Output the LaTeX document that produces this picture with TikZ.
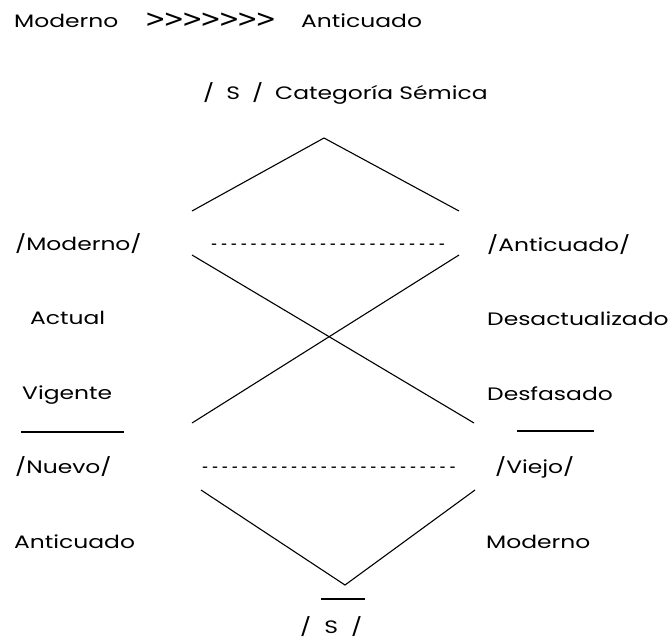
\documentclass[tikz,border=0pt]{standalone}
\usepackage{fontspec}
\setmainfont{Poppins}[FakeStretch=1.3]
\newfontfamily\dashfont{Liberation Sans}
\newfontfamily\gtfont{DejaVu Sans}
\begin{document}
\begin{tikzpicture}[x=1pt,y=-1pt,
  lbl/.style={anchor=base west,inner sep=0pt,font=\fontsize{18}{21}\selectfont},
  dashrow/.style={anchor=base west,inner sep=0pt,font=\fontsize{18}{21}\dashfont},
  ln/.style={line width=1.1pt,black}]
\useasboundingbox (0,0) rectangle (669,643);
\newcommand\hyb{\makebox[9.9pt]{-}}
\newcommand\gtb{\makebox[18.4pt]{\gtfont\fontsize{25}{28}\selectfont >}}
\newcommand\wsp{\hspace{12pt}}
% texts
\node[lbl] (t1) at (14,27) {Moderno};
\node[lbl] (t2) at (146,27) {\gtb\gtb\gtb\gtb\gtb\gtb\gtb};
\node[lbl] (t3) at (301,27) {Anticuado};
\node[lbl] (cat) at (203,99) {/\wsp S\wsp /\wsp Categoría Sémica};
\node[lbl] (mod) at (15,250) {/Moderno/};
\node[lbl] (act) at (30,324) {Actual};
\node[lbl] (vig) at (22,399) {Vigente};
\node[lbl] (nue) at (15,473) {/Nuevo/};
\node[lbl] (ant2) at (14,548) {Anticuado};
\node[lbl] (ant) at (487,251) {/Anticuado/};
\node[lbl] (des) at (487,325) {Desactualizado};
\node[lbl] (dsf) at (487,400) {Desfasado};
\node[lbl] (vie) at (495,473) {/Viejo/};
\node[lbl] (mod2) at (486,548) {Moderno};
\node[lbl] (s2) at (300,633) {/\hspace{13pt}S\hspace{13pt}/};
\node[dashrow] (d1) at (209,249) {\foreach \i in {1,...,24}{\hyb}};
\node[dashrow] (d2) at (200,472) {\foreach \i in {1,...,26}{\hyb}};
% coordinates
\coordinate (a1) at (192,211);
\coordinate (apex) at (324,138);
\coordinate (a2) at (459,211);
\coordinate (x1s) at (192,255);
\coordinate (x1e) at (474,423);
\coordinate (x2s) at (459,255);
\coordinate (x2e) at (192,423);
\coordinate (b1) at (201,490);
\coordinate (bapex) at (345,585);
\coordinate (b2) at (475,490);
\coordinate (u1) at (21,432);
\coordinate (u2) at (124,432);
\coordinate (u3) at (517,431);
\coordinate (u4) at (594,431);
\coordinate (o1) at (321,599);
\coordinate (o2) at (365,599);
% lines
\draw[ln] (a1) -- (apex) -- (a2);
\draw[ln] (x1s) -- (x1e);
\draw[ln] (x2s) -- (x2e);
\draw[ln] (b1) -- (bapex) -- (b2);
\draw[ln] (u1) -- (u2);
\draw[ln] (u3) -- (u4);
\draw[ln] (o1) -- (o2);
\end{tikzpicture}
\end{document}
